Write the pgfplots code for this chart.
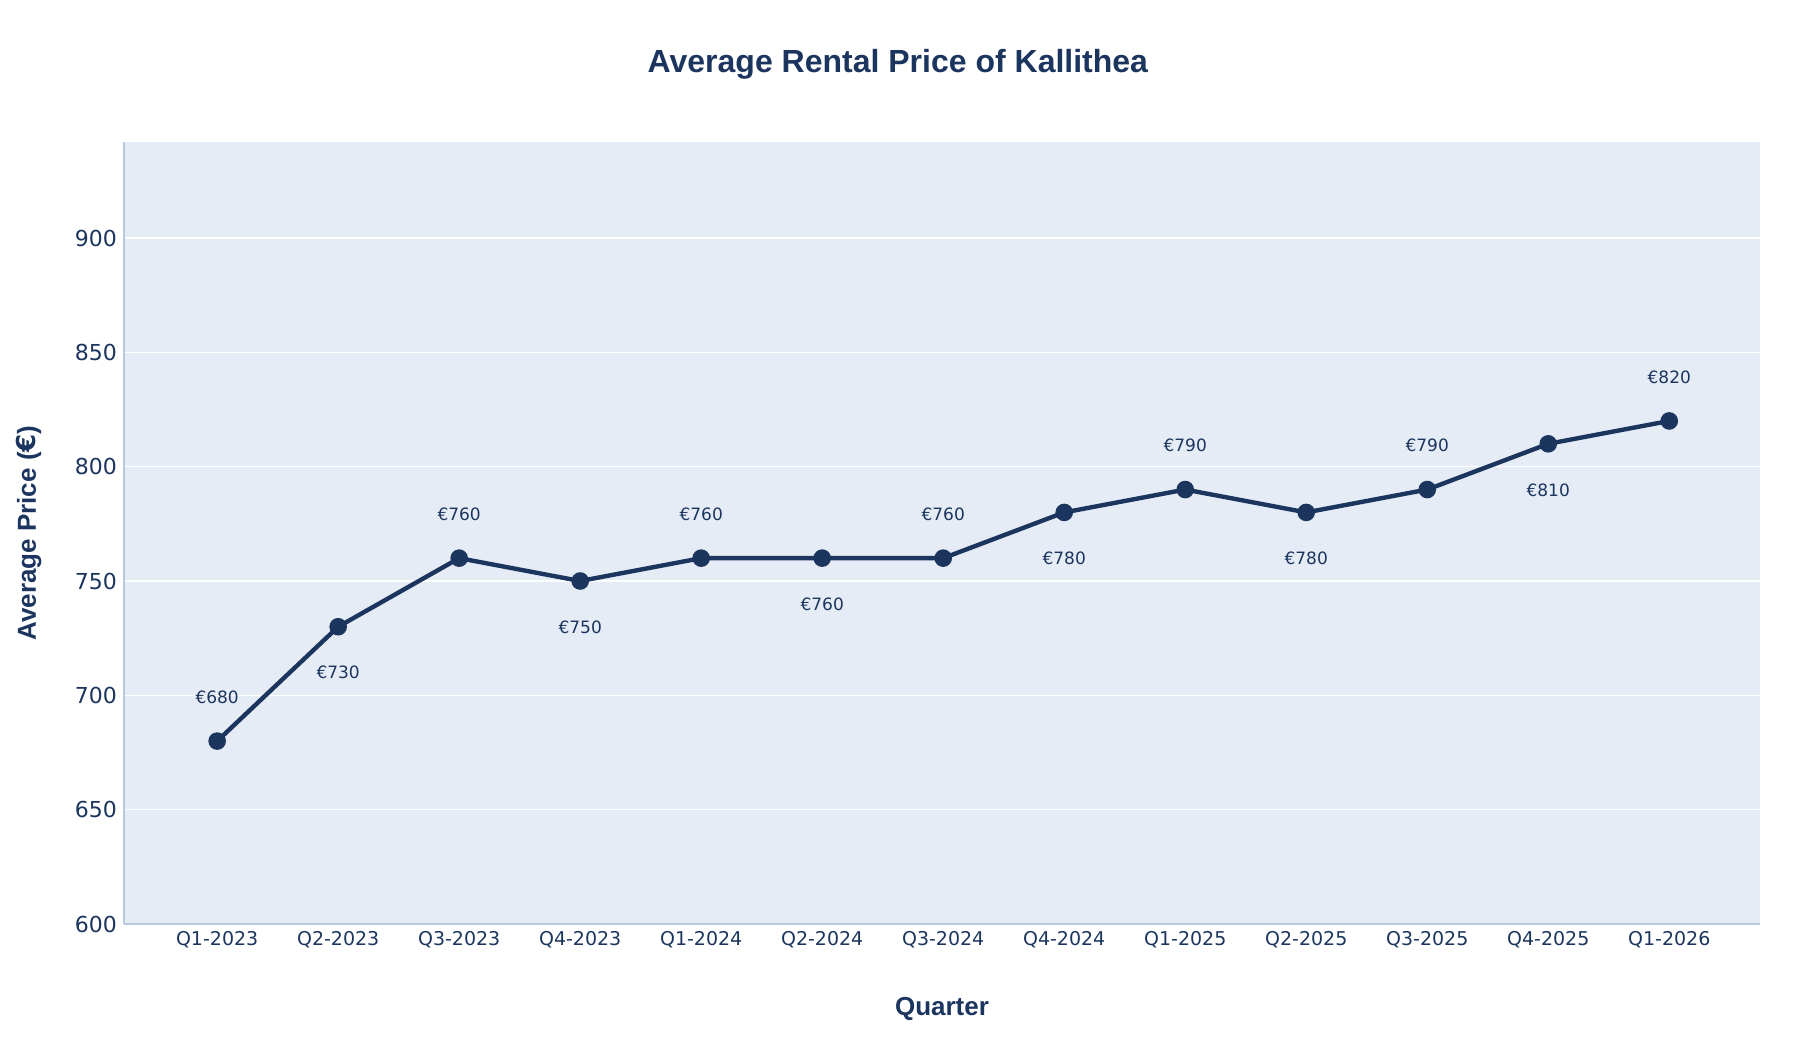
\documentclass[border=0pt]{standalone}
\usepackage{pgfplots}
\pgfplotsset{compat=1.18}
\usepackage{fontspec}
\setmainfont{Liberation Sans}
\newfontfamily\djv{DejaVu Sans}
\newfontfamily\hv{DejaVu Sans}
\definecolor{navy}{HTML}{1C355E}
\definecolor{bg}{HTML}{E5ECF6}
\definecolor{axl}{HTML}{B8C8DE}
\begin{document}
\begin{tikzpicture}
\useasboundingbox (-62bp,-58bp) rectangle (838bp,462bp);
\begin{axis}[
  at={(0,0)}, anchor=south west,
  scale only axis, width=818bp, height=391bp,
  xmin=-0.77, xmax=12.75, ymin=600, ymax=942,
  axis background/.style={fill=bg},
  axis x line*=bottom, axis y line*=left,
  axis line style={draw=axl, line width=0.6pt},
  xtick={0,...,12},
  xticklabels={Q1-2023,Q2-2023,Q3-2023,Q4-2023,Q1-2024,Q2-2024,Q3-2024,Q4-2024,Q1-2025,Q2-2025,Q3-2025,Q4-2025,Q1-2026},
  ytick={600,650,...,900},
  ymajorgrids, grid style={white, line width=0.6pt},
  major tick length=0pt,
  tick label style={text=navy},
  xticklabel style={font=\djv\fontsize{9.5bp}{11bp}\selectfont},
  yticklabel style={font=\djv\fontsize{11bp}{13bp}\selectfont},
  /pgf/number format/assume math mode=true,
  xlabel={\textbf{Quarter}}, ylabel={\textbf{Average Price (\hv€\rmfamily)}},
  label style={text=navy, font=\fontsize{13bp}{15bp}\selectfont},
  xlabel style={yshift=-18bp}, ylabel style={yshift=10bp},
  title={\textbf{Average Rental Price of Kallithea}},
  title style={text=navy, font=\fontsize{16bp}{19bp}\selectfont, yshift=22bp, xshift=-22bp},
  clip=false,
]
\addplot[navy, line width=2.2pt, mark=*, mark size=3.3pt] coordinates {
(0,680)(1,730)(2,760)(3,750)(4,760)(5,760)(6,760)(7,780)(8,790)(9,780)(10,790)(11,810)(12,820)};
\addplot[draw=none, mark=none, nodes near coords={\djv€\pgfplotspointmeta},
  point meta=explicit symbolic,
  every node near coord/.style={text=navy, font=\djv\fontsize{8.5bp}{10bp}\selectfont, anchor=center, yshift=22bp}]
 coordinates {(0,680)[680](2,760)[760](4,760)[760](6,760)[760](8,790)[790](10,790)[790](12,820)[820]};
\addplot[draw=none, mark=none, nodes near coords={\djv€\pgfplotspointmeta},
  point meta=explicit symbolic,
  every node near coord/.style={text=navy, font=\djv\fontsize{8.5bp}{10bp}\selectfont, anchor=center, yshift=-23bp}]
 coordinates {(1,730)[730](3,750)[750](5,760)[760](7,780)[780](9,780)[780](11,810)[810]};
\end{axis}
\end{tikzpicture}
\end{document}
